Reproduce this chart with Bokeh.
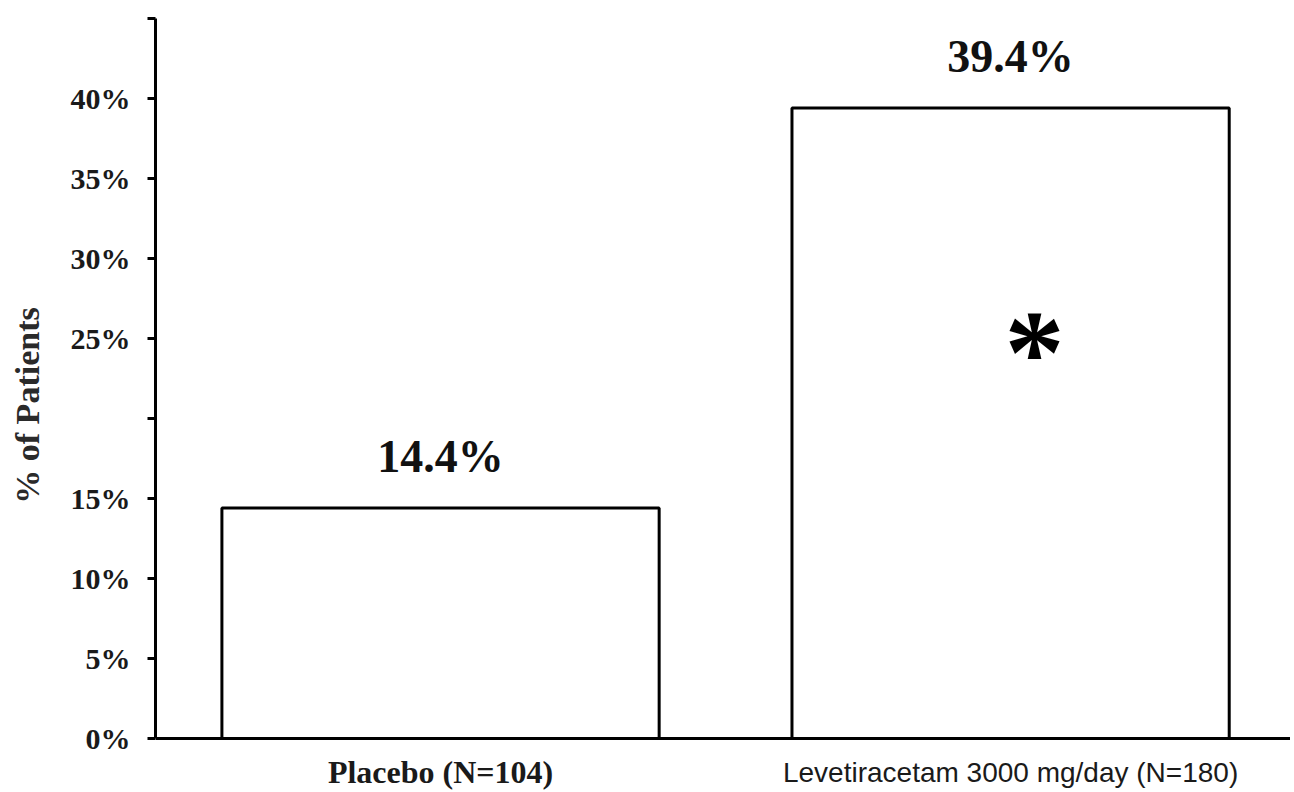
from bokeh.plotting import figure
from bokeh.models import Range1d, FixedTicker, Span
from bokeh.core.properties import value
from bokeh.embed import file_html
from bokeh.resources import INLINE

# ---- data ----
categories = ["Placebo (N=104)", "Levetiracetam 3000 mg/day (N=180)"]
values = [14.4, 39.4]
value_labels = ["14.4%", "39.4%"]
cat_fonts = ["Liberation Serif", "Liberation Sans"]
cat_styles = ["bold", "normal"]
cat_sizes = ["32px", "28px"]
y_ticks = [0, 5, 10, 15, 20, 25, 30, 35, 40, 45]
y_tick_labels = ["0%", "5%", "10%", "15%", "", "25%", "30%", "35%", "40%", ""]
significant = [False, True]

xs = [i + 0.5 for i in range(len(categories))]

# frame reaches the page bottom so the category labels (drawn below y=0) are not clipped
p = figure(width=1290, height=792, output_backend="svg", toolbar_location=None,
           x_range=Range1d(0, 1.991), y_range=Range1d(-3.375, 45),
           min_border_left=155, min_border_right=0, min_border_top=18, min_border_bottom=0)
p.background_fill_color = "white"
p.border_fill_color = "white"
p.outline_line_color = None
p.grid.visible = False
p.xaxis.visible = False

p.vbar(x=xs, top=values, bottom=0, width=0.767, fill_color="white",
       line_color="black", line_width=3)

# baseline (x axis line at 0%)
p.add_layout(Span(location=0, dimension="width", line_color="black", line_width=3))

p.text(x=xs, y=[v + 3.2 for v in values], text=value_labels, text_align="center",
       text_baseline="middle", text_font=value("Liberation Serif"), text_font_style="bold",
       text_font_size="46px", text_color="#111111")

star_x = [x for x, s in zip(xs, significant) if s]
p.text(x=star_x, y=[24.15] * len(star_x), text=["*"] * len(star_x), x_offset=24,
       text_align="center", text_baseline="alphabetic",
       text_font=value("Liberation Serif"), text_font_style="bold",
       text_font_size="120px", text_color="#000000")

# category labels under the axis
p.text(x=xs, y=[-2.1] * len(xs), text=categories, text_align="center",
       text_baseline="middle", text_font=cat_fonts, text_font_style=cat_styles,
       text_font_size=cat_sizes, text_color="#1a1a1a")

# y axis
ya = p.yaxis[0]
ya.bounds = (0, 45)
ya.ticker = FixedTicker(ticks=y_ticks)
ya.major_label_overrides = {t: l for t, l in zip(y_ticks, y_tick_labels)}
ya.minor_tick_line_color = None
ya.major_tick_in = 0
ya.major_tick_out = 8
ya.major_tick_line_width = 3
ya.axis_line_width = 3
ya.axis_line_color = "black"
ya.major_tick_line_color = "black"
ya.major_label_text_font = "Liberation Serif"
ya.major_label_text_font_style = "bold"
ya.major_label_text_font_size = "30px"
ya.major_label_text_color = "#1a1a1a"
ya.major_label_standoff = 17
ya.axis_label = "% of Patients"
ya.axis_label_text_font = "Liberation Serif"
ya.axis_label_text_font_style = "bold"
ya.axis_label_text_font_size = "34px"
ya.axis_label_text_color = "#2a2a2a"
ya.axis_label_standoff = 22

open("out.html", "w").write(file_html(p, INLINE))
